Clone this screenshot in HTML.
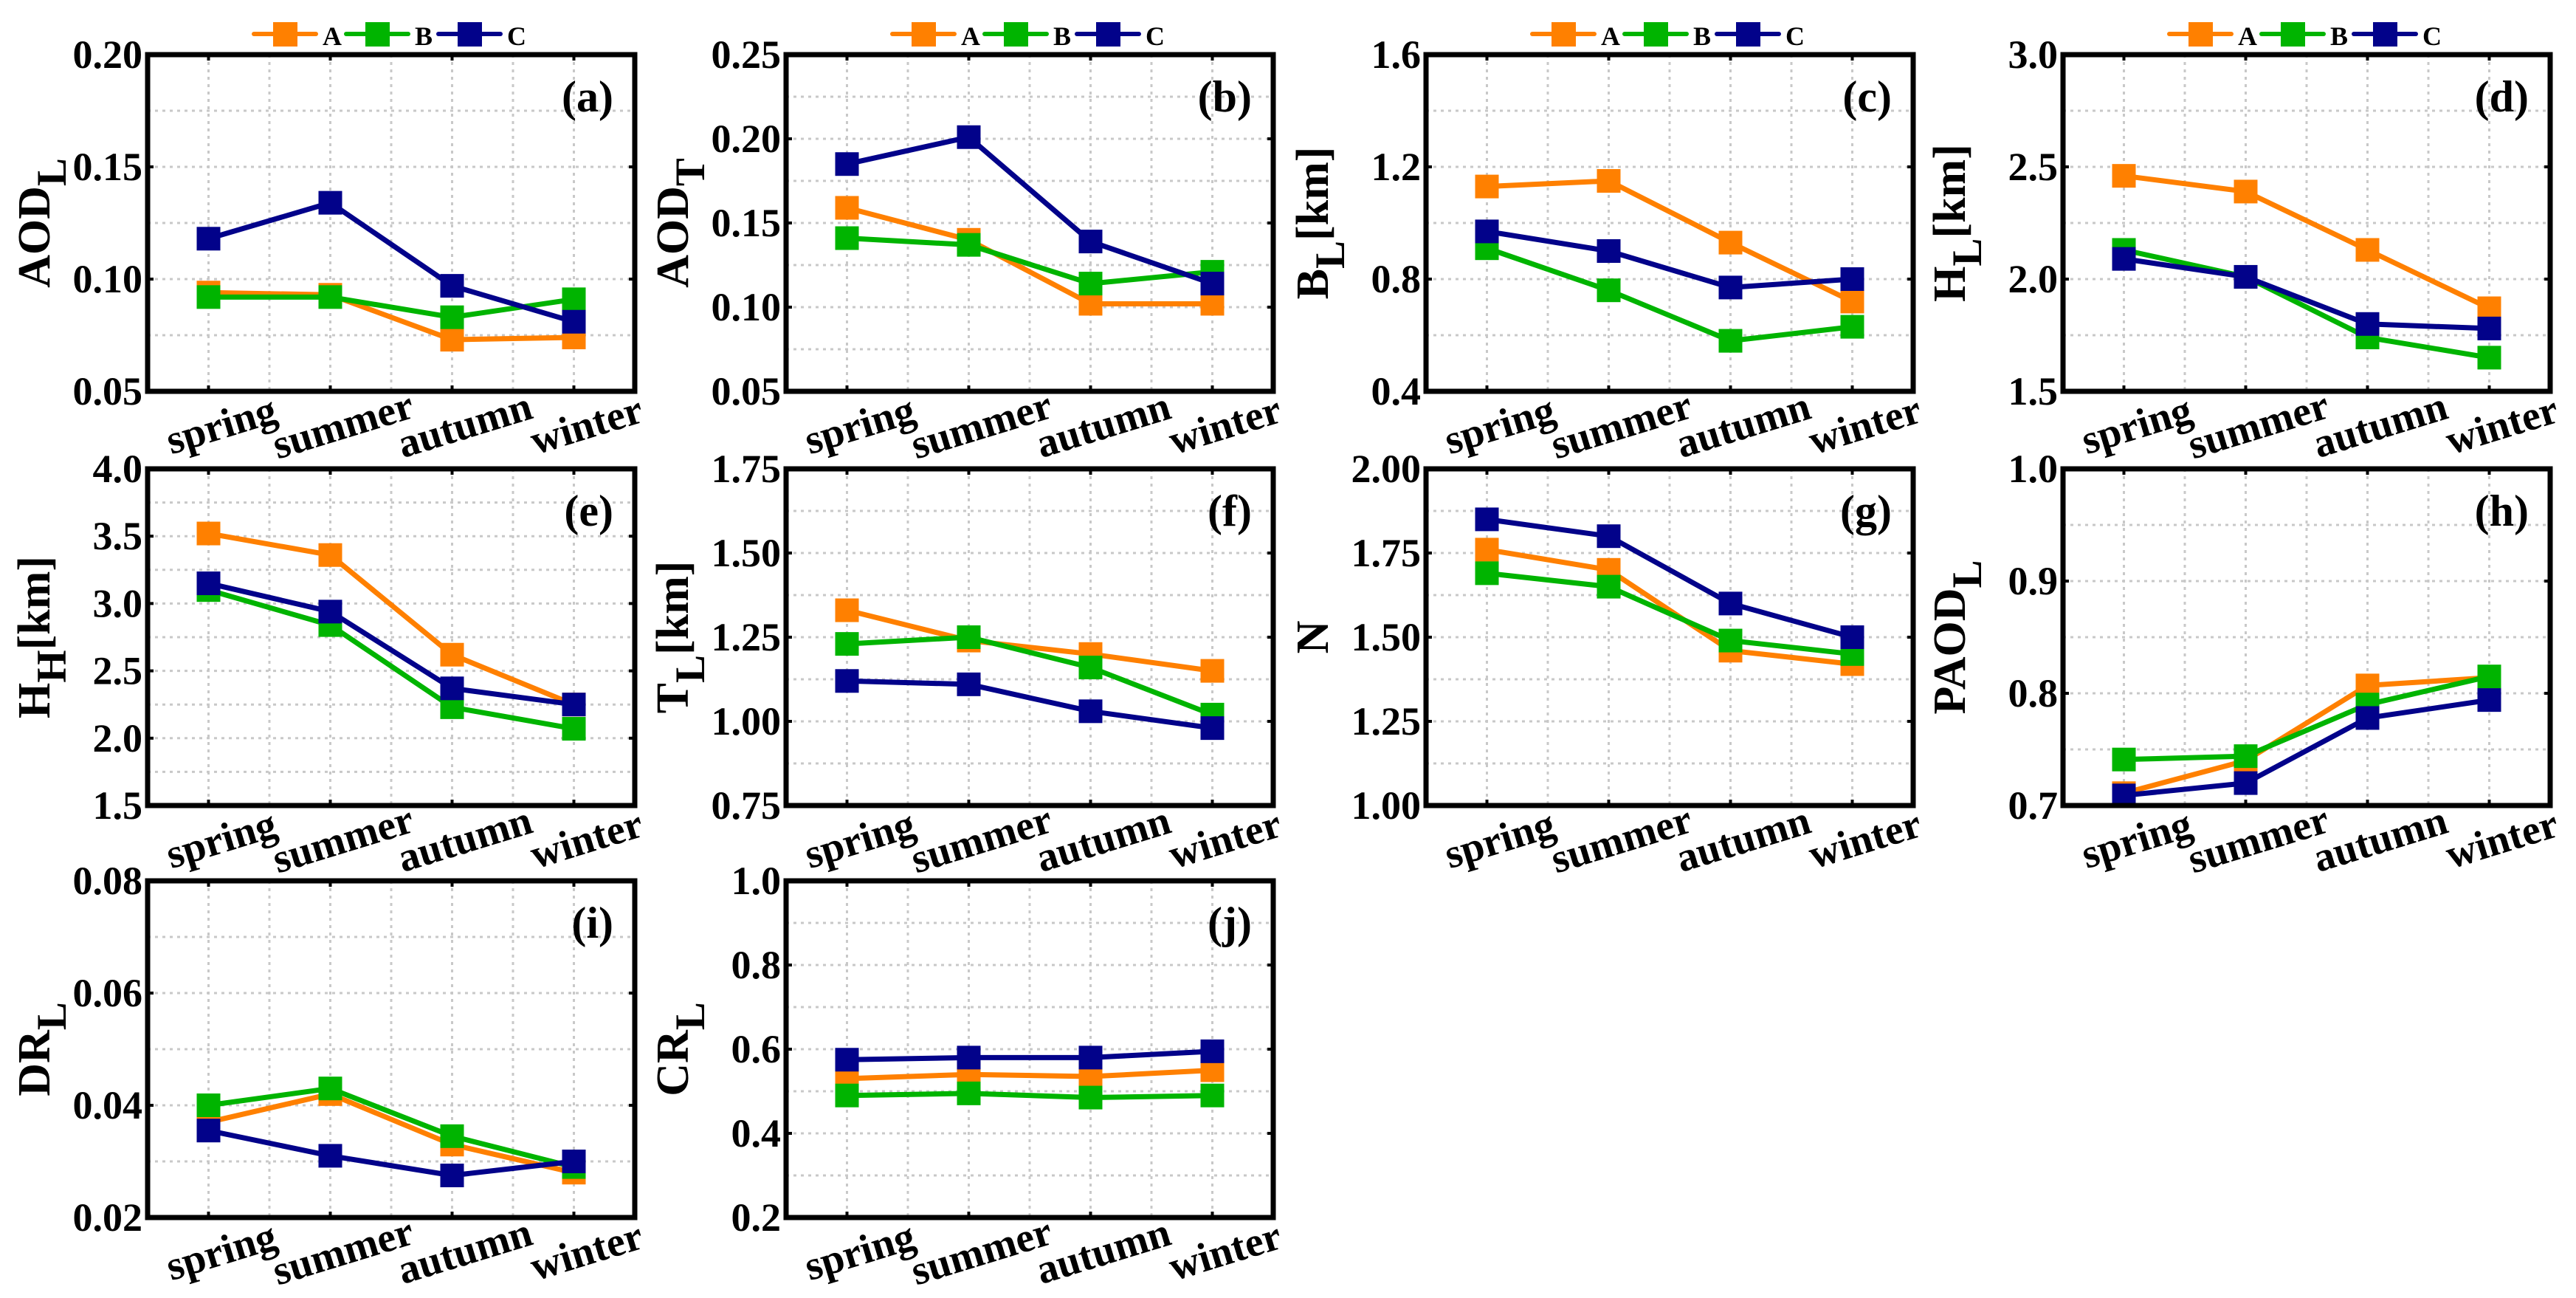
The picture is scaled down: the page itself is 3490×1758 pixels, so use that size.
<!DOCTYPE html>
<html><head><meta charset="utf-8">
<style>
html,body{margin:0;padding:0;background:#fff;}
svg{display:block;}
svg text, svg tspan{font-family:"Liberation Serif","Noto Serif CJK SC","DejaVu Serif",serif;font-weight:bold;}
</style></head>
<body>
<svg id="fig" width="3490" height="1758" viewBox="0 0 3490 1758" xmlns="http://www.w3.org/2000/svg"></svg>
<script>
const categories = ["spring","summer","autumn","winter"];
const seriesNames = ["A","B","C"];
const seriesColors = ["#ff8000","#00b400","#02028a"];

const aodL_A = [0.094,0.093,0.073,0.074];
const aodL_B = [0.092,0.092,0.083,0.091];
const aodL_C = [0.118,0.134,0.097,0.081];
const aodT_A = [0.159,0.140,0.102,0.102];
const aodT_B = [0.141,0.137,0.114,0.121];
const aodT_C = [0.185,0.201,0.139,0.114];
const bL_A = [1.13,1.15,0.93,0.72];
const bL_B = [0.91,0.76,0.58,0.63];
const bL_C = [0.97,0.90,0.77,0.80];
const hL_A = [2.46,2.39,2.13,1.87];
const hL_B = [2.13,2.01,1.74,1.65];
const hL_C = [2.09,2.01,1.80,1.78];
const hH_A = [3.52,3.36,2.62,2.25];
const hH_B = [3.10,2.84,2.23,2.07];
const hH_C = [3.15,2.94,2.37,2.25];
const tL_A = [1.33,1.24,1.20,1.15];
const tL_B = [1.23,1.25,1.16,1.02];
const tL_C = [1.12,1.11,1.03,0.98];
const n_A = [1.76,1.70,1.46,1.42];
const n_B = [1.69,1.65,1.49,1.45];
const n_C = [1.85,1.80,1.60,1.50];
const paodL_A = [0.711,0.740,0.807,0.814];
const paodL_B = [0.741,0.744,0.790,0.815];
const paodL_C = [0.709,0.720,0.778,0.794];
const drL_A = [0.037,0.042,0.033,0.028];
const drL_B = [0.040,0.043,0.0345,0.029];
const drL_C = [0.0355,0.031,0.0275,0.030];
const crL_A = [0.53,0.54,0.535,0.55];
const crL_B = [0.49,0.495,0.485,0.49];
const crL_C = [0.575,0.58,0.58,0.595];

const ticksA = ["0.05","0.10","0.15","0.20"];
const ticksB = ["0.05","0.10","0.15","0.20","0.25"];
const ticksC = ["0.4","0.8","1.2","1.6"];
const ticksD = ["1.5","2.0","2.5","3.0"];
const ticksE = ["1.5","2.0","2.5","3.0","3.5","4.0"];
const ticksF = ["0.75","1.00","1.25","1.50","1.75"];
const ticksG = ["1.00","1.25","1.50","1.75","2.00"];
const ticksH = ["0.7","0.8","0.9","1.0"];
const ticksI = ["0.02","0.04","0.06","0.08"];
const ticksJ = ["0.2","0.4","0.6","0.8","1.0"];

const panels = [
 {id:"a",col:0,row:0,title:"AOD",sub:"L",unit:"",ticks:ticksA,data:[aodL_A,aodL_B,aodL_C]},
 {id:"b",col:1,row:0,title:"AOD",sub:"T",unit:"",ticks:ticksB,data:[aodT_A,aodT_B,aodT_C]},
 {id:"c",col:2,row:0,title:"B",sub:"L",unit:"[km]",ticks:ticksC,data:[bL_A,bL_B,bL_C]},
 {id:"d",col:3,row:0,title:"H",sub:"L",unit:"[km]",ticks:ticksD,data:[hL_A,hL_B,hL_C]},
 {id:"e",col:0,row:1,title:"H",sub:"H",unit:"[km]",ticks:ticksE,data:[hH_A,hH_B,hH_C]},
 {id:"f",col:1,row:1,title:"T",sub:"L",unit:"[km]",ticks:ticksF,data:[tL_A,tL_B,tL_C]},
 {id:"g",col:2,row:1,title:"N",sub:"",unit:"",ticks:ticksG,data:[n_A,n_B,n_C]},
 {id:"h",col:3,row:1,title:"PAOD",sub:"L",unit:"",ticks:ticksH,data:[paodL_A,paodL_B,paodL_C]},
 {id:"i",col:0,row:2,title:"DR",sub:"L",unit:"",ticks:ticksI,data:[drL_A,drL_B,drL_C]},
 {id:"j",col:1,row:2,title:"CR",sub:"L",unit:"",ticks:ticksJ,data:[crL_A,crL_B,crL_C]}
];

const NS="http://www.w3.org/2000/svg";
const svg=document.getElementById("fig");
function mk(tag,attrs,parent){const e=document.createElementNS(NS,tag);for(const k in attrs)e.setAttribute(k,attrs[k]);(parent||svg).appendChild(e);return e;}

const colX=[200,1065,1932,2795], rowY=[74,635,1193], PW=660, PH=456;

panels.forEach(p=>{
  const L=colX[p.col], T=rowY[p.row], R=L+PW, B=T+PH;
  const g=mk("g",{});
  
  
  const tv=p.ticks.map(Number), y0=tv[0], y1=tv[tv.length-1];
  const yS=v=>B-(v-y0)/(y1-y0)*PH;
  const xS=i=>L+(i+0.5)*PW/categories.length;
  const step=tv[1]-tv[0];
  for(let k=1;k<8;k++){const x=L+k*PW/8;const gl=mk("line",{x1:x,x2:x,y1:T,y2:B,stroke:"#c8c8c8","stroke-width":3,"stroke-dasharray":"4 6"},g);}
  for(let k=1;k<(tv.length-1)*2;k++){const y=yS(y0+k*step/2);const gl=mk("line",{x1:L,x2:R,y1:y,y2:y,stroke:"#c8c8c8","stroke-width":3,"stroke-dasharray":"4 6"},g);}
  p.ticks.forEach((t,k)=>{const y=yS(tv[k]);
    mk("line",{x1:L,x2:L+8,y1:y,y2:y,stroke:"#000","stroke-width":4},g);
    mk("line",{x1:R-8,x2:R,y1:y,y2:y,stroke:"#000","stroke-width":4},g);
    const tx=mk("text",{x:L-7,y:y+18,"text-anchor":"end","font-size":54},g);tx.textContent=t;
    });
  categories.forEach((c,i)=>{const x=xS(i);
    mk("line",{x1:x,x2:x,y1:B-8,y2:B,stroke:"#000","stroke-width":4},g);
    mk("line",{x1:x,x2:x,y1:T,y2:T+8,stroke:"#000","stroke-width":4},g);
    const tx=mk("text",{x:x+17,y:B+64,"text-anchor":"middle","font-size":56,transform:`rotate(-17 ${x+17} ${B+45})`},g);tx.textContent=c;
    });
  p.data.forEach((arr,s)=>{
    const pts=arr.map((v,i)=>xS(i)+","+yS(v)).join(" ");
    const pl=mk("polyline",{points:pts,fill:"none",stroke:seriesColors[s],"stroke-width":7,"stroke-linejoin":"round"},g);
    
    arr.forEach((v,i)=>{const r=mk("rect",{x:xS(i)-16,y:yS(v)-16,width:32,height:32,fill:seriesColors[s]},g);
      });
  });
  const fr=mk("rect",{x:L,y:T,width:PW,height:PH,fill:"none",stroke:"#000","stroke-width":7},g);
  
  const pl=mk("text",{x:R-29,y:T+77,"text-anchor":"end","font-size":60},g);pl.textContent="("+p.id+")";
  
  const cy=(T+B)/2, tx=L-133;
  const yt=mk("text",{x:tx,y:cy,"text-anchor":"middle","font-size":62,transform:`rotate(-90 ${tx} ${cy})`},g);
  
  const t1=mk("tspan",{},yt);t1.textContent=p.title;
  if(p.sub){const t2=mk("tspan",{dy:22,"font-size":57},yt);t2.textContent=p.sub;}
  if(p.unit){const t3=mk("tspan",{dy:p.sub?-22:0},yt);t3.textContent=p.unit;}
  if(p.row===0){
    const lx=L+142, ly=46;
    seriesNames.forEach((n,s)=>{const x0=lx+s*125;
      const lg=mk("g",{},g);
      mk("line",{x1:x0+2,x2:x0+86,y1:ly,y2:ly,stroke:seriesColors[s],"stroke-width":6,"stroke-linecap":"round"},lg);
      mk("rect",{x:x0+28,y:ly-16,width:33,height:33,fill:seriesColors[s]},lg);
      const lt=mk("text",{x:x0+95,y:ly+15,"font-size":36},lg);lt.textContent=n;});
  }
});
</script>
</body></html>
